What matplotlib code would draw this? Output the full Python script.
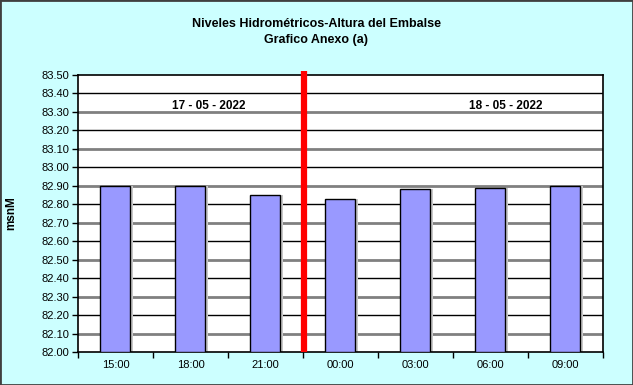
import numpy as np
import matplotlib
matplotlib.use("Agg")
import matplotlib.pyplot as plt

hours = ["15:00", "18:00", "21:00", "00:00", "03:00", "06:00", "09:00"]
levels = [82.90, 82.90, 82.85, 82.83, 82.88, 82.89, 82.90]
dates = ["17 - 05 - 2022", "18 - 05 - 2022"]
y_ticks = np.round(np.arange(82.0, 83.501, 0.1), 2)

plt.rcParams['font.family'] = ['Liberation Sans', 'DejaVu Sans']

fig = plt.figure(figsize=(6.33, 3.85), dpi=100, facecolor="#CCFFFF")
fig.patches.append(plt.Rectangle((0, 0), 1, 1, transform=fig.transFigure,
                                 fill=False, edgecolor="#404040", linewidth=2))
ax = fig.add_axes([0.1232, 0.0857, 0.8294, 0.7195])
ax.set_facecolor("white")

x = np.arange(len(hours))
# horizontal grid: black on even steps, grey on odd
for i, t in enumerate(y_ticks[1:-1], start=1):
    if i % 2 == 0:
        ax.axhline(t, color="black", linewidth=1.0, zorder=1)
    else:
        ax.axhline(t, color="#808080", linewidth=2.0, zorder=1)

# bar shadows
ax.bar(x + 0.03, np.array(levels) - 82.0, bottom=82.0, width=0.4,
       color="#C8C8C8", zorder=2)
ax.bar(x, np.array(levels) - 82.0, bottom=82.0, width=0.4,
       color="#9999FF", edgecolor="black", linewidth=1.0, zorder=3)

ax.set_xlim(-0.5, len(hours) - 0.5)
ax.set_ylim(82.0, 83.5)
ax.set_yticks(y_ticks)
ax.set_yticklabels([f"{v:.2f}" for v in y_ticks], fontsize=8)
ax.set_xticks(x)
ax.set_xticklabels(hours, fontsize=8)
ax.set_xticks(np.arange(-0.5, len(hours), 1.0), minor=True)
ax.tick_params(axis="x", which="major", length=0, pad=6)
ax.tick_params(axis="x", which="minor", length=4, width=1, direction="out")
ax.tick_params(axis="y", length=4, width=1, direction="out", pad=2)
for s in ax.spines.values():
    s.set_linewidth(1.2)

# date separator
ax.plot([2.52, 2.52], [82.0, 83.52], color="red", linewidth=4.5,
        solid_capstyle="butt", zorder=5, clip_on=False)

ax.text(1.25, 83.33, dates[0], ha="center", va="center",
        fontsize=8.5, fontweight="bold", zorder=6)
ax.text(5.2, 83.33, dates[1], ha="center", va="center",
        fontsize=8.5, fontweight="bold", zorder=6)

ax.set_ylabel("msnM", fontsize=8.5, fontweight="bold", labelpad=18)

fig.text(0.5, 0.937, "Niveles Hidrométricos-Altura del Embalse",
         ha="center", va="center", fontsize=9, fontweight="bold")
fig.text(0.5, 0.896, "Grafico Anexo (a)",
         ha="center", va="center", fontsize=9, fontweight="bold")

fig.savefig("out.png", dpi=100, facecolor=fig.get_facecolor())
